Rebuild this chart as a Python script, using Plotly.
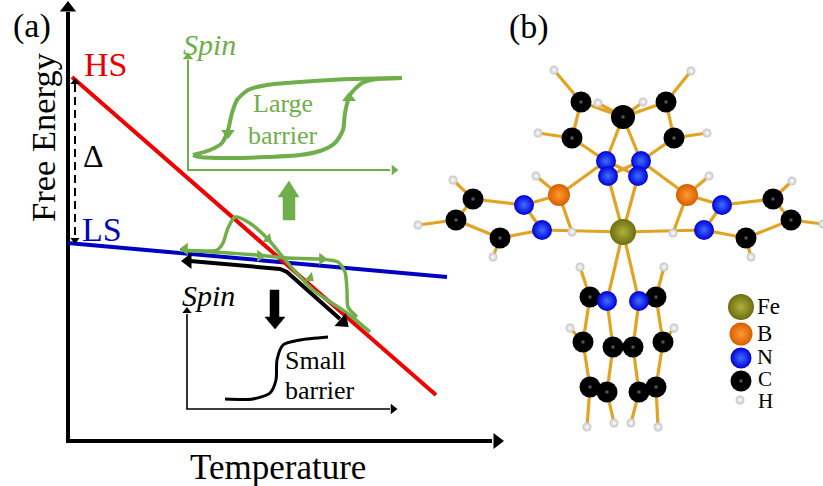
import plotly.graph_objects as go

# ---------- panel (a) data (schematic, in image units) ----------
hs_x = [72, 436]; hs_y = [77, 395]
ls_x = [68, 447]; ls_y = [243, 277]
delta_x = [75, 75]; delta_y = [84, 238]
main_ax_x = [68, 68, 492]; main_ax_y = [12, 441, 441]

green_inset_ax_x = [188, 188, 390]; green_inset_ax_y = [60, 170, 170]
black_inset_ax_x = [187, 187, 390]; black_inset_ax_y = [314, 409, 409]

loop_low_x = [193, 200, 233, 267, 300, 320, 335, 343, 345, 350, 362, 377, 402]
loop_low_y = [155, 157, 158, 157, 155, 151, 143, 130, 113, 95, 83, 79, 78]
loop_up_x = [402, 350, 300, 267, 248, 237, 232, 228, 222, 210, 193]
loop_up_y = [78, 79, 82, 85, 90, 100, 113, 130, 143, 150, 155]

curve_a_x = [180, 217, 223, 228, 235, 248, 267, 287, 313, 347, 370]
curve_a_y = [250, 250, 243, 228, 217, 222, 238, 262, 290, 313, 332]
curve_b_x = [180, 257, 287, 320, 338, 345, 347, 348, 357]
curve_b_y = [250, 255, 258, 259, 262, 272, 290, 307, 317]
black_path_x = [190, 280, 287, 340]
black_path_y = [261, 269, 272, 319]
small_x = [225, 253, 270, 276, 277, 283, 300, 328]
small_y = [399, 399, 393, 380, 360, 345, 340, 337]

up_arrow_x = [289, 299, 295, 295, 283, 283, 278, 289]
up_arrow_y = [181, 197, 197, 220, 220, 197, 197, 181]
down_arrow_x = [270, 279, 279, 285, 275, 265, 270, 270]
down_arrow_y = [290, 290, 317, 317, 329, 317, 317, 290]

green_head_x = [228, 349, 185, 260, 322, 268, 310, 394, 188]
green_head_y = [133, 98, 249, 256, 259, 239, 278, 170, 57]
green_head_a = [180, 0, 270, 90, 90, 130, 130, 90, 0]
green_head_s = [12, 12, 11, 11, 11, 10, 10, 9, 9]
black_head_x = [188, 343, 75, 75, 68, 497, 187, 393]
black_head_y = [261, 322, 82, 240, 8, 441, 311, 409]
black_head_a = [270, 131, 0, 180, 0, 90, 0, 90]
black_head_s = [14, 15, 8, 8, 14, 14, 8, 9]

# ---------- panel (b) data ----------
atom_names = ["C1","C2","C3","C4","C5","N1","N2","N3","N4","B1","B2","N5","N6","N7","N8",
              "C6","C7","C8","C9","C10","C11","Fe",
              "C12","N9","N10","C13","C14","C15","C16","C17","C18","C19","C20","C21",
              "H1","H2","H3","H4","H5","H6","H7","H8","H9","H10","H11","H12","H13","H14",
              "H15","H16","H17","H18","H19","H20","H21","H22","H23","H24"]
atom_x = [581,623,666,572,674,606,608,641,638,559,687,524,542,722,704,
          473,456,500,773,791,746,623,
          590,607,639,656,583,613,633,663,590,607,639,656,
          554,691,538,707,598,643,536,709,453,792,418,823,493,751,
          572,673,580,664,570,674,587,614,631,658]
atom_y = [102,117,102,138,138,161,176,161,176,195,195,205,230,205,230,
          199,220,238,199,220,238,232,
          297,301,301,297,342,347,347,342,387,392,392,387,
          70,71,133,133,103,102,176,176,180,181,225,224,257,257,
          232,233,267,267,328,328,427,423,423,427]
bonds = [("H1","C1"),("C1","C4"),("C4","H3"),("C1","C2"),("H5","C2"),("C3","C2"),("H6","C2"),
         ("H2","C3"),("C3","C5"),("C5","H4"),("C4","N1"),("C5","N3"),("C2","N1"),("C2","N3"),
         ("N1","N4"),("N2","N3"),("N1","B1"),("N3","B2"),("N2","Fe"),("N4","Fe"),
         ("B1","H7"),("B1","N5"),("B1","H15"),("N5","N6"),("N5","C6"),("C6","C7"),("C7","C8"),
         ("C8","N6"),("C6","H9"),("C7","H11"),("C8","H13"),("N6","Fe"),
         ("B2","H8"),("B2","N7"),("B2","H16"),("N7","N8"),("N7","C9"),("C9","C10"),("C10","C11"),
         ("C11","N8"),("C9","H10"),("C10","H12"),("C11","H14"),("N8","Fe"),
         ("Fe","N9"),("Fe","N10"),("C12","H17"),("C13","H18"),("C12","C14"),("N9","C15"),
         ("N10","C16"),("C13","C17"),("C14","C18"),("C15","C19"),("C16","C20"),("C17","C21"),
         ("C14","H19"),("C17","H20"),("C18","H21"),("C19","H22"),("C20","H23"),("C21","H24")]
legend_atom_x = [741, 741, 741, 741, 740]
legend_atom_y = [307, 334, 358, 381, 400]
legend_atom_d = [26, 23, 21, 21, 9]
legend_atom_kind = ["Fe", "B", "N", "C", "H"]

# ---------- text ----------
texts = ["(a)", "(b)", "Free Energy", "Temperature", "HS", "LS", "Δ",
         "Spin", "Large", "barrier", "Spin", "Small", "barrier",
         "Fe", "B", "N", "C", "H"]
text_x = [32, 529, 43, 278, 105, 102, 93, 209, 283, 283, 208, 315, 320, 768, 764, 765, 765, 765]
text_y = [26, 27, 137, 467, 64, 229, 156, 44, 103, 135, 295, 360, 390, 306, 333, 356, 378.5, 401]
text_size = [34, 34, 34.5, 35, 34, 34, 32, 30, 26, 26, 30, 26, 26, 23, 23, 22, 21, 21]

GREEN = "#6fae4b"
BOND = "#e2a322"
STYLE = {"Fe": ("#6e6e12", "#b0b03a", 26), "B": ("#d85f00", "#ff9a33", 22),
         "N": ("#0000d8", "#3f70ff", 20), "C": ("#000000", "#000000", 21),
         "H": ("#c4c4c4", "#ffffff", 9)}

fig = go.Figure()

def line(x, y, color, width, dash=None, shape="linear"):
    fig.add_trace(go.Scatter(x=x, y=y, mode="lines", hoverinfo="skip",
                             line=dict(color=color, width=width, dash=dash, shape=shape, smoothing=0.7)))

def poly(x, y, color):
    fig.add_trace(go.Scatter(x=x, y=y, mode="lines", fill="toself", fillcolor=color,
                             hoverinfo="skip", line=dict(color=color, width=0.5)))

def heads(x, y, a, s, color):
    fig.add_trace(go.Scatter(x=x, y=y, mode="markers", hoverinfo="skip",
                             marker=dict(symbol="triangle-up", size=s, angle=a, color=color,
                                         opacity=1, line=dict(width=0))))

line(main_ax_x, main_ax_y, "black", 4)
line(delta_x, delta_y, "black", 2, dash="8px,5px")
line(green_inset_ax_x, green_inset_ax_y, GREEN, 2)
line(black_inset_ax_x, black_inset_ax_y, "black", 1.6)
line(ls_x, ls_y, "#0000c4", 4)
line(hs_x, hs_y, "#f00000", 4)
line(black_path_x, black_path_y, "black", 4)
line(small_x, small_y, "black", 3, shape="spline")
line(loop_low_x, loop_low_y, GREEN, 4, shape="spline")
line(loop_up_x, loop_up_y, GREEN, 4, shape="spline")
line(curve_a_x, curve_a_y, GREEN, 3.5, shape="spline")
line(curve_b_x, curve_b_y, GREEN, 3.5, shape="spline")
poly(up_arrow_x, up_arrow_y, GREEN)
poly(down_arrow_x, down_arrow_y, "black")
heads(black_head_x, black_head_y, black_head_a, black_head_s, "black")
heads(green_head_x, green_head_y, green_head_a, green_head_s, GREEN)

# bonds
pos = {n: (a, b) for n, a, b in zip(atom_names, atom_x, atom_y)}
bx, by = [], []
for p, q in bonds:
    bx += [pos[p][0], pos[q][0], None]
    by += [pos[p][1], pos[q][1], None]
line(bx, by, BOND, 3.2)

def atoms(x, y, kind, d=None):
    edge, core, base = STYLE[kind]
    fig.add_trace(go.Scatter(x=x, y=y, mode="markers", hoverinfo="skip",
                             marker=dict(size=d if d else base, color=edge, opacity=1, line=dict(width=0),
                                         gradient=dict(type="radial", color=core))))
    if kind == "C":
        fig.add_trace(go.Scatter(x=x, y=y, mode="markers", hoverinfo="skip",
                                 marker=dict(size=5, color="#000000", opacity=1, line=dict(width=0),
                                             gradient=dict(type="radial", color="#777777"))))

for k in ["H", "C", "B", "N", "Fe"]:
    xs = [a for n, a in zip(atom_names, atom_x) if n.startswith(k)]
    ys = [b for n, b in zip(atom_names, atom_y) if n.startswith(k)]
    if k == "C":
        sizes = [24 if n == "C2" else 21 for n in atom_names if n.startswith("C")]
        atoms(xs, ys, k, sizes)
    else:
        atoms(xs, ys, k)

for a, b, d, k in zip(legend_atom_x, legend_atom_y, legend_atom_d, legend_atom_kind):
    atoms([a], [b], k, d)

text_colors = ["black", "black", "black", "black", "#e60000", "#0000c4", "black",
               GREEN, GREEN, GREEN, "black", "black", "black",
               "black", "black", "black", "black", "black"]
for t, x, y, s, c in zip(texts, text_x, text_y, text_size, text_colors):
    fig.add_annotation(x=x, y=y, xref="x", yref="y", text=f"<i>{t}</i>" if t == "Spin" else t,
                       showarrow=False, xanchor="center", yanchor="middle",
                       textangle=-90 if t == "Free Energy" else 0,
                       font=dict(family="Liberation Serif", size=s, color=c))

fig.update_layout(width=823, height=486, margin=dict(l=0, r=0, t=0, b=0), showlegend=False,
                  paper_bgcolor="white", plot_bgcolor="white",
                  xaxis=dict(range=[0, 823], visible=False, fixedrange=True),
                  yaxis=dict(range=[486, 0], visible=False, fixedrange=True))
fig.write_html("out.html", config={"displayModeBar": False},
               post_script="document.body.style.margin='0';")
